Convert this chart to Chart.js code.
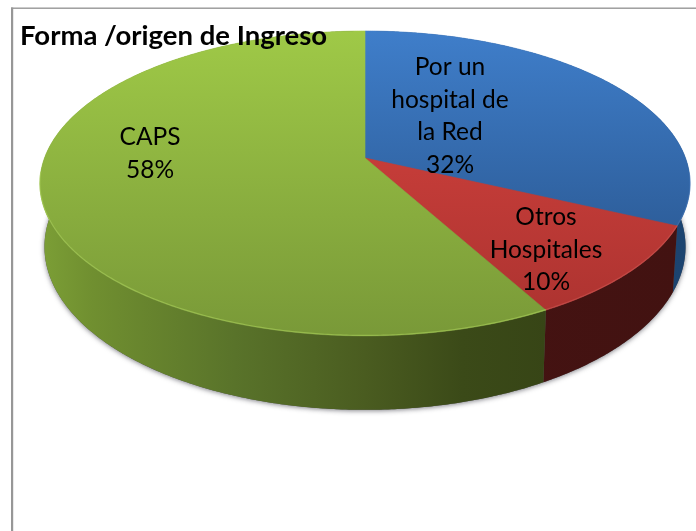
<!DOCTYPE html>
<html>
<head>
<meta charset="utf-8">
<script src="https://cdn.jsdelivr.net/npm/chart.js@4"></script>
<style>html,body{margin:0;background:#fff;overflow:hidden}canvas{display:block}</style>
</head>
<body>
<canvas id="c" width="696" height="531"></canvas>
<script>
const categories = ['Por un hospital de la Red', 'Otros Hospitales', 'CAPS'];
const values = [32, 10, 58];
const titleText = 'Forma /origen de Ingreso';

// presentation only
const labelLines = [['Por un', 'hospital de', 'la Red'], ['Otros', 'Hospitales'], ['CAPS']];
const labelAnchors = [[450, 75], [546, 225], [150, 145]];
const topStops = [['#3F7ECA', '#2E5F9C'], ['#C63D39', '#AA322F'], ['#9FC947', '#799938']];
const rimGlow = ['rgba(90,140,210,.3)', 'rgba(214,90,86,.5)', 'rgba(170,208,90,.6)'];
const P = {cx: 365, cy: 158, A: 320.5, B: 148.2, p: -0.167, d: 61.6};

function project(a, drop) {
  const ux = Math.cos(a), uy = Math.sin(a), w = 1 + P.p * uy;
  const k = drop ? 0.986 : 1;
  return [P.cx + k * P.A * ux / w, P.cy + P.B * uy / w + (drop ? P.d / w : 0)];
}
function rimPoints(s, e, drop) {
  const pts = [], n = Math.max(2, Math.ceil((e - s) / 0.008));
  for (let i = 0; i <= n; i++) pts.push(project(s + (e - s) * i / n, drop));
  return pts;
}
function trace(ctx, pts) {
  ctx.beginPath();
  pts.forEach((q, i) => i ? ctx.lineTo(q[0], q[1]) : ctx.moveTo(q[0], q[1]));
  ctx.closePath();
}
function wallFill(ctx, i) {
  const g = ctx.createLinearGradient(40, 0, 690, 0);
  if (i === 2) {
    g.addColorStop(0, '#7C9F36'); g.addColorStop(0.08, '#708F30');
    g.addColorStop(0.3, '#59732A'); g.addColorStop(0.5, '#4A5C20');
    g.addColorStop(0.65, '#3B4A18'); g.addColorStop(0.78, '#374516'); g.addColorStop(1, '#374516');
  } else if (i === 1) {
    g.addColorStop(0, '#4A1413'); g.addColorStop(1, '#421211');
  } else {
    g.addColorStop(0, '#17375E'); g.addColorStop(1, '#1C4470');
  }
  return g;
}

const pie3d = {
  id: 'pie3d',
  beforeDatasetDraw() { return false; },
  beforeDraw(chart) {
    const ctx = chart.ctx, arcs = chart.getDatasetMeta(0).data;
    ctx.save();
    ctx.fillStyle = '#fff';
    ctx.fillRect(0, 0, chart.width, chart.height);
    ctx.fillStyle = '#979797';
    ctx.fillRect(11, 7.5, 800, 1.4);
    ctx.fillRect(11, 7.5, 2.2, 800);

    // soft shadow under the body
    ctx.save();
    ctx.shadowColor = 'rgba(60,60,70,.65)';
    ctx.shadowBlur = 5;
    ctx.shadowOffsetY = 1;
    ctx.fillStyle = '#555';
    trace(ctx, rimPoints(0, Math.PI * 2, true));
    ctx.fill();
    ctx.restore();

    // side walls
    arcs.forEach((el, i) => {
      const t = rimPoints(el.startAngle, el.endAngle, false);
      const b = rimPoints(el.startAngle, el.endAngle, true).reverse();
      trace(ctx, t.concat(b));
      ctx.fillStyle = wallFill(ctx, i);
      ctx.fill();
    });
    // top faces
    arcs.forEach((el, i) => {
      const g = ctx.createLinearGradient(0, 31, 0, i === 0 ? 225 : 336);
      g.addColorStop(i === 1 ? 0.4 : 0, topStops[i][0]);
      g.addColorStop(1, topStops[i][1]);
      const pts = [[P.cx, P.cy]].concat(rimPoints(el.startAngle, el.endAngle, false));
      trace(ctx, pts);
      ctx.fillStyle = g;
      ctx.fill();
      ctx.strokeStyle = g;
      ctx.lineWidth = 0.6;
      ctx.stroke();
    });
    // faint bright rim along the front
    arcs.forEach((el, i) => {
      const s = Math.max(el.startAngle, 0.1), e = Math.min(el.endAngle, Math.PI * 0.97);
      if (e <= s) return;
      ctx.beginPath();
      rimPoints(s, e, false).forEach((q, j) => j ? ctx.lineTo(q[0], q[1] - 0.5) : ctx.moveTo(q[0], q[1] - 0.5));
      ctx.strokeStyle = rimGlow[i];
      ctx.lineWidth = 1.2;
      ctx.stroke();
    });
    ctx.restore();
  },
  afterDraw(chart) {
    const ctx = chart.ctx, lh = 32.7;
    ctx.save();
    ctx.font = '24.5px Lato';
    ctx.fillStyle = '#000';
    ctx.textAlign = 'center';
    ctx.textBaseline = 'alphabetic';
    labelLines.forEach((lines, i) => {
      const [x, y] = labelAnchors[i];
      lines.concat([values[i] + '%']).forEach((t, j) => ctx.fillText(t, x, y + j * lh));
    });
    ctx.restore();
  }
};

new Chart(document.getElementById('c'), {
  type: 'pie',
  data: {labels: categories, datasets: [{data: values, backgroundColor: ['#3F7ECA', '#C63D39', '#9FC947'], borderWidth: 0}]},
  plugins: [pie3d],
  options: {
    responsive: false,
    animation: false,
    events: [],
    layout: {padding: {top: 20, left: 20}},
    plugins: {
      legend: {display: false},
      tooltip: {enabled: false},
      title: {display: true, text: titleText, align: 'start', color: '#000',
        font: {family: 'Lato', size: 27.5, weight: 'bold'}, padding: {top: 0, bottom: 0}}
    }
  }
});
</script>
</body>
</html>
